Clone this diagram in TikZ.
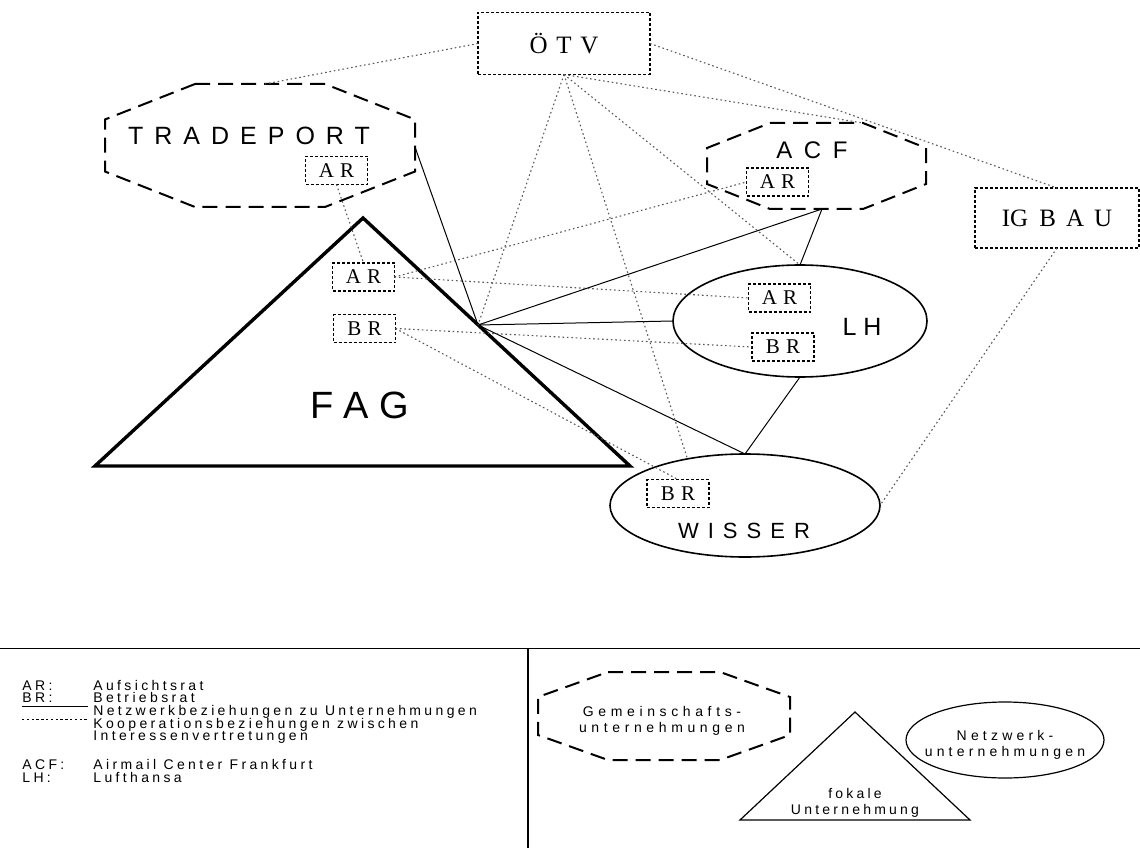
\documentclass[tikz,border=0pt]{standalone}
\usepackage{fontspec}
\setmainfont{Liberation Serif}
\newfontfamily\arial{Liberation Sans}
\usetikzlibrary{calc,shapes.geometric}
\def\achteck[#1](#2)(#3:#4:#5:#6){\draw[#1] ($(#2)+(-#5,-#4)$) -- ($(#2)+(#5,-#4)$) -- ($(#2)+(#3,-#6)$) -- ($(#2)+(#3,#6)$) -- ($(#2)+(#5,#4)$) -- ($(#2)+(-#5,#4)$) -- ($(#2)+(-#3,#6)$) -- ($(#2)+(-#3,-#6)$) -- cycle;}
\newcommand\sperr[1]{\addfontfeature{LetterSpace=#1}}
\tikzset{
	gremium/.style={draw, line width=0.9pt, dash pattern=on 1.5pt off 1pt, minimum width=31pt, minimum height=14pt, inner sep=0pt, outer sep=0pt, font=\fontsize{10.5}{11}\selectfont},
	verband/.style={gremium, minimum width=86pt, minimum height=31pt, font=\fontsize{12.5}{14}\selectfont},
	firma/.style 2 args={inner sep=0pt, font=\arial\fontsize{#1}{#1}\selectfont\sperr{#2}},
	netzu/.style={draw, ellipse, line width=0.8pt, inner sep=0pt, outer sep=0pt},
	netz/.style={line width=0.5pt},
	koop/.style={line width=0.55pt, color=black!65, dash pattern=on 0.8pt off 1.4pt},
	gemein/.style={line width=1pt, dash pattern=on 7.5pt off 4pt},
	leg/.style={inner sep=0pt, font=\arial\fontsize{7}{8}\selectfont\sperr{#1}},
	leg/.default=24,
}

\begin{document}
\begin{tikzpicture}[x=0.5pt,y=-0.5pt]
	%%%%% START %%%%%
	\useasboundingbox (0,0) rectangle (1140,850);
	
	% Interessenvertretungen
	\node[verband] (oetv) at (564,43.5) {Ö\hspace{0.35em}T\hspace{0.35em}V};
	\node[verband, minimum width=82pt, minimum height=30pt] (igbau) at (1057,218) {IG\hspace{0.45em}B\hspace{0.4em}A\hspace{0.4em}U};
	
	% Gemeinschaftsunternehmungen
	\achteck[gemein](260,145.5)(155:61.5:65:26)
	\node[firma={12.5}{44}] (tp) at (249,136) {TRADEPORT};
	\node[gremium] (tpar) at (336.5,170.5) {A\hspace{0.3em}R};
	\coordinate (tp-n) at (265,84);
	\coordinate (tp-e) at (415,147);
	
	\achteck[gemein](816.5,166)(109.5:43:46.5:18)
	\node[firma={12}{48}] (acf) at (812,150) {ACF};
	\node[gremium] (acfar) at (777.5,182) {A\hspace{0.3em}R};
	\coordinate (acf-s) at (822,209);
	\coordinate (acf-ne) at (863,123);
	
	% fokale Unternehmung
	\draw[line width=1.7pt] (95,466) -- (363,218) -- (630,466) -- cycle;
	\coordinate (fp) at (478,325);
	\node[firma={19}{29}] (fag) at (360,405) {FAG};
	\node[gremium] (fagar) at (363.5,277) {A\hspace{0.3em}R};
	\node[gremium] (fagbr) at (364.5,328.5) {B\hspace{0.3em}R};
	
	% Netzwerkunternehmungen
	\node[netzu, minimum width=127pt, minimum height=56pt] (lh) at (800,321) {};
	\node[firma={12.5}{28}] (lhtext) at (862,327) {LH};
	\node[gremium] (lhar) at (779.5,298) {A\hspace{0.3em}R};
	\node[gremium] (lhbr) at (783,347) {B\hspace{0.3em}R};
	
	\node[netzu, minimum width=135pt, minimum height=51.5pt] (wisser) at (745,505.5) {};
	\node[firma={11}{41}] (wtext) at (744,531) {WISSER};
	\node[gremium] (wbr) at (678,493.5) {B\hspace{0.3em}R};
	
	% Netzwerkbeziehungen
	\draw[netz] (fp) -- (tp-e);
	\draw[netz] (fp) -- (acf-s);
	\draw[netz] (fp) -- (lh.west);
	\draw[netz] (fp) -- (wisser.north);
	\draw[netz] (acf-s) -- (lh.north);
	\draw[netz] (lh.south) -- (wisser.north);
	
	% Kooperationsbeziehungen
	\draw[koop] (oetv.west) -- (tp-n);
	\draw[koop] (oetv.south) -- (fp);
	\draw[koop] (oetv.south) -- (wisser.141);
	\draw[koop] (oetv.south) -- (lh.north);
	\draw[koop] (oetv.south) -- (acf-ne);
	\draw[koop] (oetv.east) -- (igbau.north);
	\draw[koop] (igbau.south) -- (wisser.east);
	\draw[koop] (tpar.south) -- (fagar.north);
	\draw[koop] (fagar.east) -- (acfar.west);
	\draw[koop] (fagar.east) -- (lhar.west);
	\draw[koop] (fagbr.east) -- (lhbr.west);
	\draw[koop] (fagbr.east) -- (wbr.north);
	
	% Legende
	\draw[line width=0.5pt] (0,648) -- (1140,648);
	\draw[line width=0.8pt] (528,648) -- (528,848);
	
	\node[leg, anchor=base west] (l-ar) at (22,690) {AR:};
	\node[leg, anchor=base west] (l-ar-t) at (93,690) {Aufsichtsrat};
	\node[leg, anchor=base west] (l-br) at (22,702) {BR:};
	\node[leg, anchor=base west] (l-br-t) at (93,702) {Betriebsrat};
	\coordinate (l-netz-a) at (22,706);
	\coordinate (l-netz-b) at (88,706);
	\draw[line width=0.4pt] (l-netz-a) -- (l-netz-b);
	\node[leg, anchor=base west] (l-netz) at (93,715) {Netzwerkbeziehungen zu Unternehmungen};
	\coordinate (l-koop-a) at (22,719);
	\coordinate (l-koop-b) at (88,719);
	\draw[line width=0.4pt, dash pattern=on 1.2pt off 1.2pt] (l-koop-a) -- (l-koop-b);
	\node[leg, anchor=base west] (l-koop) at (93,728) {Kooperationsbeziehungen zwischen};
	\node[leg, anchor=base west] (l-koop2) at (93,740) {Interessenvertretungen};
	\node[leg, anchor=base west] (l-acf) at (22,769) {ACF:};
	\node[leg, anchor=base west] (l-acf-t) at (93,769) {Airmail Center Frankfurt};
	\node[leg, anchor=base west] (l-lh) at (22,782) {LH:};
	\node[leg, anchor=base west] (l-lh-t) at (93,782) {Lufthansa};
	
	\achteck[gemein](664,716)(126:44:56:19)
	\node[leg=33, align=center] (g-gem) at (662,721) {Gemeinschafts-\\unternehmungen};
	\draw[line width=0.6pt] (740,820) -- (855,712) -- (970,820) -- cycle;
	\node[leg=23, align=center] (g-fok) at (855,803) {fokale\\Unternehmung};
	\node[netzu, line width=0.6pt, minimum width=99pt, minimum height=38pt] (g-netz) at (1005,740) {};
	\node[leg=30, align=center] (g-netz-t) at (1005,745) {Netzwerk-\\unternehmungen};
	
	%%%%% END %%%%%
\end{tikzpicture}
\end{document}
